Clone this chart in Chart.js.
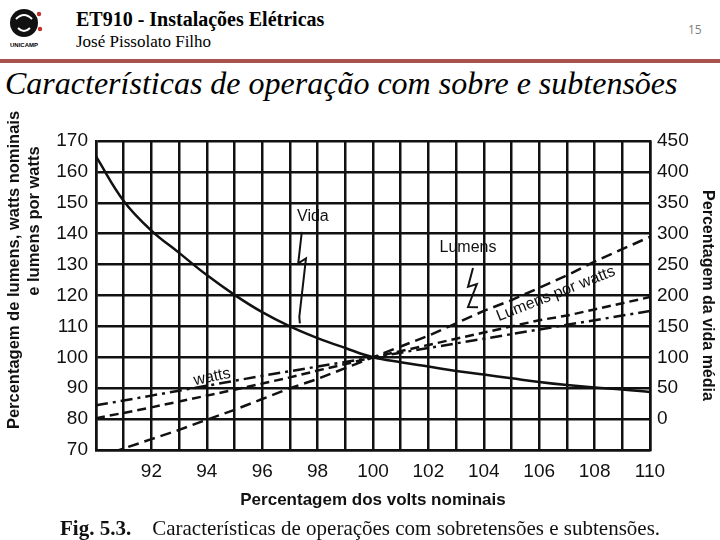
<!DOCTYPE html>
<html>
<head>
<meta charset="utf-8">
<script src="https://cdn.jsdelivr.net/npm/chart.js@4.4.1/dist/chart.umd.min.js"></script>
<style>
  body { margin:0; background:#fff; width:720px; height:540px; position:relative; overflow:hidden; }
  .abs { position:absolute; white-space:nowrap; }
  #hdr1 { left:76px; top:8px; font:bold 20px "Liberation Serif"; line-height:22px; color:#000; }
  #hdr2 { left:76px; top:31px; font:17px "Liberation Serif"; line-height:22px; color:#000; }
  #page { left:688px; top:22px; font:12px "Open Sans"; line-height:16px; color:#808080; }
  #bar { left:0; top:59px; width:720px; height:4px; background:#a9524d; }
  #title { left:5px; top:64px; font:italic 32px "Liberation Serif"; line-height:38px; color:#000; }
  #caption { left:60px; top:516px; font:21px "Liberation Serif"; line-height:24px; color:#111; }
  #caption b { margin-right:21px; }
  #wrap { left:0; top:100px; width:720px; height:420px; }
  .ytitle { width:400px; height:20px; line-height:20px; text-align:center; transform:rotate(-90deg);
            font:bold 16.5px "Liberation Sans"; color:#111; }
</style>
</head>
<body>
<svg class="abs" style="left:4px;top:3px" width="44" height="46" viewBox="0 0 44 46">
  <circle cx="20" cy="20" r="14" fill="#111"/>
  <path d="M12 16 Q20 8 28 16" stroke="#fff" stroke-width="2" fill="none"/>
  <path d="M14 25 Q20 31 26 25" stroke="#fff" stroke-width="2" fill="none"/>
  <circle cx="35" cy="11" r="2.2" fill="#c0302a"/>
  <circle cx="36" cy="26" r="2.2" fill="#c0302a"/>
  <text x="20" y="44" font-family="Liberation Sans" font-weight="bold" font-size="6" text-anchor="middle">UNICAMP</text>
</svg>
<div id="hdr1" class="abs">ET910 - Instalações Elétricas</div>
<div id="hdr2" class="abs">José Pissolato Filho</div>
<div id="page" class="abs">15</div>
<div id="bar" class="abs"></div>
<div id="title" class="abs">Características de operação com sobre e subtensões</div>
<div id="wrap" class="abs"><canvas id="myChart" width="720" height="420"></canvas></div>
<div class="abs ytitle" style="left:-186px;top:260px">Percentagem de lumens, watts nominais</div>
<div class="abs ytitle" style="left:-166px;top:211px">e lumens por watts</div>
<div id="caption" class="abs"><b>Fig. 5.3.</b>Características de operações com sobretensões e subtensões.</div>

<script>
// percentagem dos volts nominais
const volts = [90, 91, 92, 93, 94, 95, 96, 97, 98, 99, 100, 101, 102, 103, 104, 105, 106, 107, 108, 109, 110];
// percentagem da vida media (eixo direito)
const vida = [425, 353, 305, 269, 233, 201, 173, 150, 131, 115, 100, 92, 85, 78, 72, 66, 60, 55, 51, 48, 44];
// eixo esquerdo
const lumens = [67.5, 70.5, 73.5, 76.5, 79.8, 83, 86.5, 90, 93, 96.5, 100, 103.5, 107, 111, 115, 118.5, 122.5, 126.5, 131, 135, 139];
const lumensPorWatts = [80.3, 82, 83.8, 85.7, 87.6, 89.5, 91.5, 93.5, 95.7, 97.8, 100, 102, 104, 106, 108, 110, 112, 113.5, 115.5, 117.5, 119.5];
const watts = [84.5, 86, 87.6, 89.2, 90.8, 92.4, 94, 95.5, 97, 98.5, 100, 101.5, 103, 104.5, 106, 107.5, 109, 110.5, 112, 113.5, 115];

const xLabels = [92, 94, 96, 98, 100, 102, 104, 106, 108, 110];
const leftTicks = [70, 80, 90, 100, 110, 120, 130, 140, 150, 160, 170];
const rightTicks = [0, 50, 100, 150, 200, 250, 300, 350, 400, 450];

const ink = "#111";
const tickFont = { family: "Liberation Sans", size: 19 };

function pts(ys){
  return volts.map((v, i) => ({ x: v, y: ys[i] }));
}

// textos e setas do desenho, em coordenadas dos eixos
const notes = [
  { text: "Vida", x: 97.83, y: 145.4, angle: 0 },
  { text: "Lumens", x: 103.43, y: 135.4, angle: 0 },
  { text: "watts", x: 94.19, y: 93.6, angle: -12 },
  { text: "Lumens por watts", x: 106.6, y: 120.5, angle: -21.6 }
];
const arrows = [
  [[97.43, 140.6], [97.30, 130.4], [97.58, 132.0], [97.34, 113.1], [97.36, 111]],
  [[103.61, 128.9], [103.43, 122.8], [103.75, 123.7], [103.43, 116.3], [103.79, 116.2]]
];

const notesPlugin = {
  id: "notes",
  afterDatasetsDraw(chart){
    const ctx = chart.ctx;
    const sx = chart.scales.x, sy = chart.scales.y;
    ctx.save();
    ctx.strokeStyle = ink;
    ctx.lineWidth = 2;
    arrows.forEach((a) => {
      ctx.beginPath();
      a.forEach((p, i) => {
        const px = sx.getPixelForValue(p[0]), py = sy.getPixelForValue(p[1]);
        if (i == 0) ctx.moveTo(px, py); else ctx.lineTo(px, py);
      });
      ctx.stroke();
    });
    ctx.fillStyle = ink;
    ctx.font = "16px 'Liberation Sans'";
    ctx.textAlign = "center";
    ctx.textBaseline = "middle";
    notes.forEach((n) => {
      ctx.save();
      ctx.translate(sx.getPixelForValue(n.x), sy.getPixelForValue(n.y));
      ctx.rotate(n.angle * Math.PI / 180);
      ctx.fillText(n.text, 0, 0);
      ctx.restore();
    });
    ctx.restore();
  }
};

const ctx = document.getElementById("myChart");

new Chart(ctx, {
  type: "line",
  data: {
    datasets: [
      {
        label: "Vida",
        data: pts(vida),
        yAxisID: "y2",
        borderColor: ink,
        borderWidth: 2.5,
        tension: 0.4,
        pointRadius: 0
      },
      {
        label: "Lumens",
        data: pts(lumens),
        yAxisID: "y",
        borderColor: ink,
        borderWidth: 2.5,
        borderDash: [11, 6],
        pointRadius: 0
      },
      {
        label: "Lumens por watts",
        data: pts(lumensPorWatts),
        yAxisID: "y",
        borderColor: ink,
        borderWidth: 2.5,
        borderDash: [9, 5],
        pointRadius: 0
      },
      {
        label: "watts",
        data: pts(watts),
        yAxisID: "y",
        borderColor: ink,
        borderWidth: 2.5,
        borderDash: [12, 5, 3, 5],
        pointRadius: 0
      }
    ]
  },
  options: {
    responsive: false,
    animation: false,
    layout: { padding: { top: 41, left: 0, right: 0, bottom: 0 } },
    plugins: {
      legend: { display: false },
      tooltip: { enabled: false }
    },
    scales: {
      x: {
        type: "linear",
        min: volts[0],
        max: volts[volts.length - 1],
        afterFit: (s) => { s.height = 70; },
        ticks: {
          stepSize: 1,
          autoSkip: false,
          maxRotation: 0,
          padding: 10,
          color: ink,
          font: tickFont,
          callback: (v) => xLabels.includes(v) ? v : ""
        },
        grid: { color: ink, lineWidth: 2.5, drawTicks: false },
        border: { color: ink, width: 2.5 },
        title: {
          display: true,
          text: "Percentagem dos volts nominais",
          color: ink,
          font: { family: "Liberation Sans", size: 17, weight: "bold" },
          padding: { top: 0, bottom: 9 }
        }
      },
      y: {
        position: "left",
        min: leftTicks[0],
        max: leftTicks[leftTicks.length - 1],
        afterFit: (s) => { s.width = 96; },
        ticks: { stepSize: 10, padding: 8, color: ink, font: tickFont },
        grid: { color: ink, lineWidth: 2.5, drawTicks: false },
        border: { color: ink, width: 2.5 }
      },
      y2: {
        position: "right",
        min: -50,
        max: rightTicks[rightTicks.length - 1],
        afterFit: (s) => { s.width = 70; },
        ticks: {
          stepSize: 50,
          padding: 7,
          color: ink,
          font: tickFont,
          callback: (v) => rightTicks.includes(v) ? v : ""
        },
        grid: { drawOnChartArea: false, drawTicks: false },
        border: { color: ink, width: 2.5 },
        title: {
          display: true,
          text: "Percentagem da vida média",
          color: ink,
          font: { family: "Liberation Sans", size: 16, weight: "bold" },
          padding: { top: 3, bottom: 0 }
        }
      }
    }
  },
  plugins: [notesPlugin]
});
</script>
</body>
</html>
